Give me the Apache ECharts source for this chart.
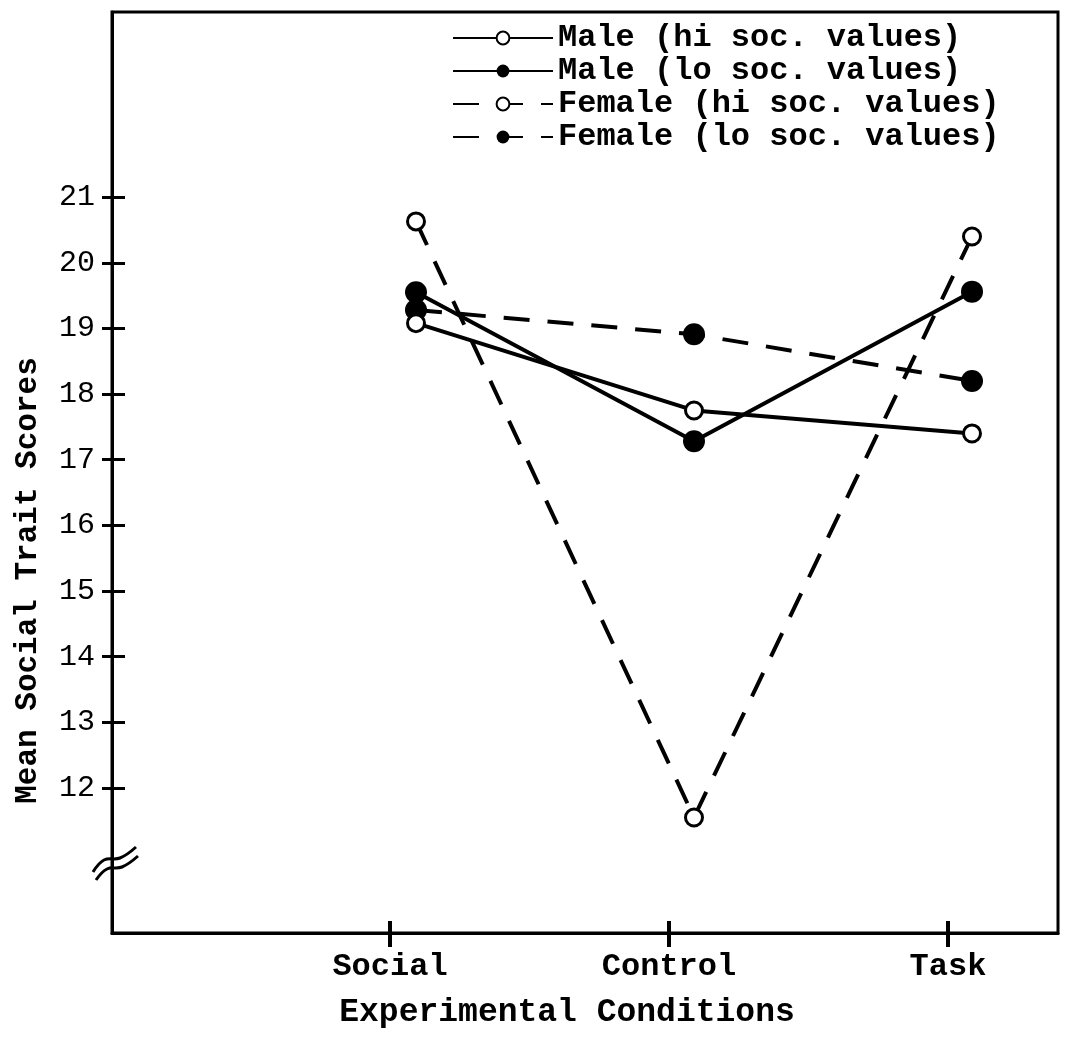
<!DOCTYPE html>
<html><head><meta charset="utf-8">
<script src="https://cdn.jsdelivr.net/npm/echarts@6/dist/echarts.min.js"></script>
<style>html,body{margin:0;padding:0;background:#fff}#c{width:1076px;height:1053px}</style>
</head><body><div id="c"></div>
<script>
// ---- data ----
const conditions = ['Social', 'Control', 'Task'];
const seriesNames = ['Male (hi soc. values)', 'Male (lo soc. values)', 'Female (hi soc. values)', 'Female (lo soc. values)'];
const maleHi = [19.08, 17.75, 17.40];
const maleLo = [19.55, 17.28, 19.56];
const femaleHi = [20.63, 11.55, 20.40];
const femaleLo = [19.28, 18.91, 18.20];
const yTickValues = [12, 13, 14, 15, 16, 17, 18, 19, 20, 21];

// ---- layout / style ----
const FONT = '"Liberation Mono", "DejaVu Sans Mono", monospace';
const TOP = 12, BOTTOM = 120;
const Y_MIN = 9.79, Y_MAX = 23.82;
const INK = '#000';

const chart = echarts.init(document.getElementById('c'));

function hiddenY(gi) {
  return { gridIndex: gi, type: 'value', min: Y_MIN, max: Y_MAX, show: false };
}
function openStyle() {
  return { color: '#fff', borderColor: INK, borderWidth: 3 };
}
function filledStyle() {
  return { color: INK, borderColor: INK, borderWidth: 0 };
}
function makeSeries(name, data, dashed, filled) {
  return {
    name: name, type: 'line', xAxisIndex: 1, yAxisIndex: 2, data: data,
    symbol: 'circle', symbolSize: filled ? 22 : 17,
    lineStyle: { color: INK, width: 4, type: dashed ? [26, 18] : 'solid' },
    itemStyle: filled ? filledStyle() : openStyle(),
    z: filled ? 3 : 4
  };
}

const option = {
  backgroundColor: '#fff',
  animation: false,
  grid: [
    { left: 112, right: 18, top: TOP, bottom: BOTTOM, show: true, borderColor: INK, borderWidth: 3, backgroundColor: 'transparent' },
    { left: 416, right: 104, top: TOP, bottom: BOTTOM },
    { left: 390, right: 128, top: TOP, bottom: BOTTOM }
  ],
  legend: {
    orient: 'vertical', left: 452, top: 22, itemWidth: 100, itemHeight: 16, itemGap: 1,
    padding: 0,
    data: seriesNames,
    textStyle: { fontFamily: FONT, fontSize: 32, fontWeight: 'bold', color: INK }
  },
  xAxis: [
    { gridIndex: 0, type: 'value', min: 0, max: 1, position: 'bottom',
      axisLine: { show: true, lineStyle: { color: INK, width: 3 } },
      axisTick: { show: false }, axisLabel: { show: false }, splitLine: { show: false },
      name: 'Experimental Conditions', nameLocation: 'middle', nameGap: 63,
      nameTextStyle: { fontFamily: FONT, fontSize: 33, fontWeight: 'bold', color: INK, padding: [0, 36, 0, 0] } },
    { gridIndex: 1, type: 'category', data: conditions, boundaryGap: false, show: false },
    { gridIndex: 2, type: 'category', data: conditions, boundaryGap: false, position: 'bottom',
      axisLine: { show: false },
      axisTick: { show: true, inside: false, length: 14, lineStyle: { color: INK, width: 4 } },
      axisLabel: { margin: 18, fontFamily: FONT, fontSize: 32, fontWeight: 'bold', color: INK },
      splitLine: { show: false } },
    { gridIndex: 2, type: 'category', data: conditions, boundaryGap: false, position: 'bottom',
      axisLine: { show: false },
      axisTick: { show: true, inside: true, length: 12, lineStyle: { color: INK, width: 4 } },
      axisLabel: { show: false }, splitLine: { show: false } }
  ],
  yAxis: [
    { gridIndex: 0, type: 'value', min: Y_MIN, max: Y_MAX, position: 'left',
      axisLine: { show: true, lineStyle: { color: INK, width: 3 } },
      axisTick: { show: true, inside: false, length: 10, customValues: yTickValues, lineStyle: { color: INK, width: 3 } },
      axisLabel: { margin: 17, customValues: yTickValues, fontFamily: FONT, fontSize: 30, color: INK },
      splitLine: { show: false },
      name: 'Mean Social Trait Scores', nameLocation: 'middle', nameGap: 68,
      nameTextStyle: { fontFamily: FONT, fontSize: 31, fontWeight: 'bold', color: INK, padding: [0, 216, 0, 0] } },
    { gridIndex: 0, type: 'value', min: Y_MIN, max: Y_MAX, position: 'left',
      axisLine: { show: false },
      axisTick: { show: true, inside: true, length: 13, customValues: yTickValues, lineStyle: { color: INK, width: 3 } },
      axisLabel: { show: false }, splitLine: { show: false } },
    hiddenY(1),
    hiddenY(2)
  ],
  graphic: [
    { type: 'polyline', shape: { points: [[93, 872], [104, 860], [120, 858], [136, 847]], smooth: 0.4 },
      style: { stroke: INK, lineWidth: 3, fill: null }, z: 100 },
    { type: 'polyline', shape: { points: [[96, 880], [107, 869], [122, 867], [138, 856]], smooth: 0.4 },
      style: { stroke: INK, lineWidth: 3, fill: null }, z: 100 }
  ],
  series: [
    makeSeries(seriesNames[0], maleHi, false, false),
    makeSeries(seriesNames[1], maleLo, false, true),
    makeSeries(seriesNames[2], femaleHi, true, false),
    makeSeries(seriesNames[3], femaleLo, true, true)
  ]
};
chart.setOption(option);
</script>
</body></html>
